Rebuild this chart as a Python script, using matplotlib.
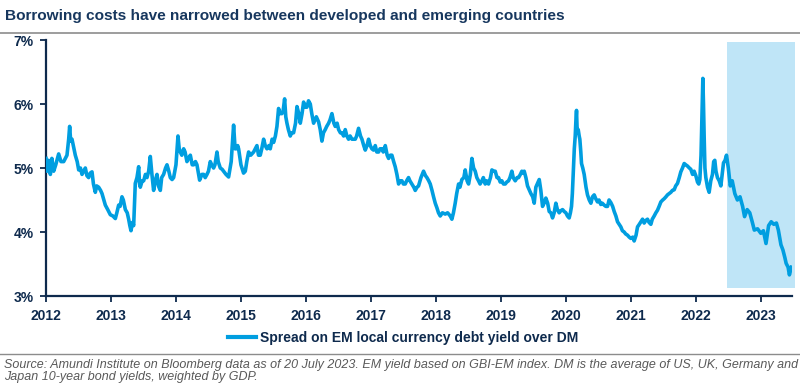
import matplotlib
matplotlib.use("Agg")
import matplotlib.pyplot as plt
from matplotlib.lines import Line2D
from matplotlib.patches import Rectangle

plt.rcParams["font.family"] = ["Liberation Sans", "DejaVu Sans"]

TITLE = "Borrowing costs have narrowed between developed and emerging countries"
SERIES_LABEL = "Spread on EM local currency debt yield over DM"
SOURCE = ("Source: Amundi Institute on Bloomberg data as of 20 July 2023. EM yield based on GBI-EM index. "
          "DM is the average of US, UK, Germany and\nJapan 10-year bond yields, weighted by GDP.")

# decimal year, spread in %
years = [
    2012.0, 2012.015, 2012.04, 2012.067, 2012.09, 2012.118, 2012.15, 2012.195, 2012.23, 2012.272,
    2012.323, 2012.349, 2012.364, 2012.38, 2012.40, 2012.43, 2012.451, 2012.48, 2012.503, 2012.53,
    2012.554, 2012.58, 2012.605, 2012.63, 2012.656, 2012.68, 2012.708, 2012.73, 2012.759, 2012.78,
    2012.81, 2012.84, 2012.862, 2012.89, 2012.913, 2012.95, 2012.99, 2013.03, 2013.067, 2013.09,
    2013.118, 2013.14, 2013.169, 2013.19, 2013.221, 2013.25, 2013.272, 2013.29, 2013.308, 2013.33,
    2013.349, 2013.374, 2013.40, 2013.426, 2013.44, 2013.451, 2013.48, 2013.503, 2013.53, 2013.554,
    2013.58, 2013.605, 2013.63, 2013.656, 2013.68, 2013.708, 2013.73, 2013.759, 2013.78, 2013.81,
    2013.84, 2013.862, 2013.89, 2013.913, 2013.94, 2013.964, 2014.0, 2014.031, 2014.05, 2014.067,
    2014.09, 2014.118, 2014.14, 2014.169, 2014.19, 2014.221, 2014.25, 2014.272, 2014.30, 2014.323,
    2014.34, 2014.364, 2014.40, 2014.426, 2014.45, 2014.477, 2014.50, 2014.528, 2014.55, 2014.579,
    2014.60, 2014.631, 2014.65, 2014.682, 2014.71, 2014.733, 2014.77, 2014.81, 2014.85, 2014.887,
    2014.91, 2014.928, 2014.95, 2014.964, 2015.0, 2015.015, 2015.04, 2015.067, 2015.09, 2015.118,
    2015.15, 2015.195, 2015.22, 2015.246, 2015.27, 2015.297, 2015.32, 2015.349, 2015.374, 2015.40,
    2015.43, 2015.451, 2015.48, 2015.503, 2015.53, 2015.554, 2015.579, 2015.60, 2015.631, 2015.65,
    2015.672, 2015.69, 2015.708, 2015.73, 2015.759, 2015.78, 2015.81, 2015.84, 2015.862, 2015.89,
    2015.913, 2015.94, 2015.964, 2015.99, 2016.015, 2016.04, 2016.067, 2016.09, 2016.118, 2016.16,
    2016.195, 2016.22, 2016.246, 2016.27, 2016.297, 2016.32, 2016.349, 2016.37, 2016.40, 2016.43,
    2016.451, 2016.48, 2016.503, 2016.53, 2016.554, 2016.58, 2016.605, 2016.63, 2016.656, 2016.68,
    2016.708, 2016.73, 2016.759, 2016.78, 2016.81, 2016.84, 2016.862, 2016.89, 2016.913, 2016.94,
    2016.964, 2016.99, 2017.015, 2017.04, 2017.067, 2017.09, 2017.118, 2017.14, 2017.169, 2017.19,
    2017.221, 2017.25, 2017.272, 2017.30, 2017.323, 2017.35, 2017.374, 2017.40, 2017.426, 2017.45,
    2017.477, 2017.50, 2017.528, 2017.55, 2017.579, 2017.60, 2017.631, 2017.66, 2017.682, 2017.71,
    2017.733, 2017.77, 2017.81, 2017.84, 2017.862, 2017.89, 2017.913, 2017.94, 2017.964, 2017.99,
    2018.015, 2018.04, 2018.067, 2018.10, 2018.144, 2018.18, 2018.221, 2018.246, 2018.27, 2018.297,
    2018.32, 2018.349, 2018.37, 2018.40, 2018.43, 2018.451, 2018.48, 2018.503, 2018.53, 2018.554,
    2018.58, 2018.605, 2018.63, 2018.656, 2018.68, 2018.708, 2018.73, 2018.759, 2018.78, 2018.81,
    2018.84, 2018.862, 2018.89, 2018.913, 2018.94, 2018.964, 2018.99, 2019.015, 2019.04, 2019.067,
    2019.09, 2019.118, 2019.14, 2019.169, 2019.19, 2019.221, 2019.25, 2019.272, 2019.30, 2019.323,
    2019.345, 2019.359, 2019.385, 2019.41, 2019.44, 2019.462, 2019.49, 2019.513, 2019.538, 2019.56,
    2019.59, 2019.615, 2019.641, 2019.665, 2019.692, 2019.72, 2019.744, 2019.77, 2019.795, 2019.82,
    2019.846, 2019.87, 2019.897, 2019.92, 2019.949, 2019.975, 2020.0, 2020.025, 2020.051, 2020.07,
    2020.087, 2020.10, 2020.118, 2020.13, 2020.144, 2020.155, 2020.164, 2020.175, 2020.19, 2020.205,
    2020.215, 2020.23, 2020.241, 2020.26, 2020.282, 2020.31, 2020.333, 2020.36, 2020.385, 2020.41,
    2020.436, 2020.46, 2020.487, 2020.51, 2020.538, 2020.56, 2020.59, 2020.615, 2020.641, 2020.665,
    2020.692, 2020.72, 2020.744, 2020.77, 2020.795, 2020.82, 2020.846, 2020.87, 2020.897, 2020.92,
    2020.949, 2020.975, 2021.0, 2021.03, 2021.051, 2021.08, 2021.103, 2021.13, 2021.154, 2021.18,
    2021.205, 2021.23, 2021.256, 2021.28, 2021.308, 2021.33, 2021.359, 2021.385, 2021.41, 2021.435,
    2021.462, 2021.49, 2021.513, 2021.54, 2021.564, 2021.59, 2021.615, 2021.64, 2021.667, 2021.69,
    2021.718, 2021.745, 2021.769, 2021.795, 2021.821, 2021.845, 2021.872, 2021.9, 2021.923, 2021.95,
    2021.974, 2022.0, 2022.026, 2022.045, 2022.062, 2022.08, 2022.087, 2022.1, 2022.108, 2022.118,
    2022.128, 2022.14, 2022.154, 2022.18, 2022.205, 2022.23, 2022.256, 2022.275, 2022.292, 2022.31,
    2022.333, 2022.36, 2022.385, 2022.405, 2022.426, 2022.45, 2022.472, 2022.5, 2022.53, 2022.56,
    2022.6, 2022.64, 2022.68, 2022.72, 2022.75, 2022.79, 2022.83, 2022.87, 2022.9, 2022.95,
    2023.0, 2023.04, 2023.08, 2023.12, 2023.16, 2023.2, 2023.24, 2023.27, 2023.31, 2023.34,
    2023.37, 2023.39, 2023.42, 2023.44, 2023.47,
]
spread = [
    5.15, 4.95, 5.12, 4.90, 5.15, 4.95, 5.05, 5.22, 5.10, 5.10,
    5.20, 5.45, 5.65, 5.42, 5.45, 5.30, 5.20, 5.10, 4.97, 5.00,
    4.90, 4.95, 5.00, 4.88, 4.85, 4.92, 4.94, 4.75, 4.62, 4.72,
    4.70, 4.65, 4.60, 4.50, 4.42, 4.35, 4.27, 4.25, 4.21, 4.30,
    4.42, 4.40, 4.55, 4.50, 4.35, 4.30, 4.20, 4.10, 4.02, 4.15,
    4.10, 4.76, 4.85, 5.02, 4.75, 4.70, 4.80, 4.80, 4.90, 4.85,
    4.95, 5.18, 4.90, 4.65, 4.80, 4.90, 4.72, 4.65, 4.85, 4.90,
    5.00, 5.05, 4.95, 4.85, 4.82, 4.85, 5.05, 5.50, 5.30, 5.25,
    5.20, 5.30, 5.25, 5.10, 5.15, 5.20, 5.05, 5.05, 5.10, 5.05,
    4.95, 4.81, 4.90, 4.90, 4.85, 4.90, 4.95, 5.10, 5.05, 5.00,
    5.05, 5.25, 5.10, 5.00, 4.98, 4.95, 4.90, 4.86, 5.10, 5.67,
    5.30, 5.30, 5.35, 5.30, 5.05, 5.00, 4.92, 4.95, 5.10, 5.25,
    5.20, 5.25, 5.30, 5.35, 5.20, 5.20, 5.30, 5.45, 5.35, 5.30,
    5.35, 5.30, 5.45, 5.40, 5.50, 5.65, 5.93, 5.85, 5.85, 5.90,
    6.08, 5.80, 5.70, 5.60, 5.50, 5.55, 5.55, 5.70, 5.96, 5.85,
    5.70, 5.85, 6.03, 5.95, 5.95, 6.05, 6.00, 5.85, 5.70, 5.80,
    5.72, 5.60, 5.42, 5.55, 5.60, 5.65, 5.70, 5.75, 5.85, 5.70,
    5.65, 5.70, 5.60, 5.55, 5.55, 5.50, 5.60, 5.50, 5.45, 5.50,
    5.45, 5.45, 5.45, 5.50, 5.62, 5.50, 5.45, 5.35, 5.28, 5.35,
    5.45, 5.35, 5.30, 5.28, 5.35, 5.25, 5.25, 5.30, 5.30, 5.25,
    5.35, 5.20, 5.15, 5.20, 5.20, 5.10, 5.02, 4.90, 4.75, 4.80,
    4.80, 4.75, 4.75, 4.80, 4.85, 4.80, 4.75, 4.70, 4.65, 4.70,
    4.72, 4.85, 4.95, 4.88, 4.85, 4.80, 4.75, 4.65, 4.55, 4.45,
    4.38, 4.30, 4.25, 4.30, 4.28, 4.30, 4.25, 4.20, 4.30, 4.45,
    4.60, 4.75, 4.70, 4.82, 4.85, 4.97, 4.80, 4.75, 4.90, 5.15,
    5.00, 4.95, 4.85, 4.80, 4.75, 4.80, 4.85, 4.75, 4.80, 4.75,
    4.85, 4.97, 4.95, 4.95, 4.85, 4.85, 4.78, 4.80, 4.75, 4.75,
    4.78, 4.80, 4.85, 4.95, 4.85, 4.80, 4.85, 4.85, 4.90, 4.95,
    4.92, 4.95, 4.85, 4.72, 4.65, 4.60, 4.55, 4.45, 4.70, 4.75,
    4.82, 4.65, 4.40, 4.45, 4.53, 4.45, 4.32, 4.30, 4.22, 4.30,
    4.45, 4.35, 4.30, 4.33, 4.35, 4.32, 4.30, 4.25, 4.22, 4.30,
    4.40, 4.60, 5.00, 5.30, 5.50, 5.75, 5.90, 5.55, 5.60, 5.50,
    5.45, 5.25, 5.07, 5.00, 4.90, 4.70, 4.58, 4.50, 4.45, 4.55,
    4.58, 4.52, 4.47, 4.50, 4.43, 4.45, 4.42, 4.40, 4.40, 4.50,
    4.46, 4.40, 4.32, 4.25, 4.16, 4.12, 4.08, 4.02, 4.00, 3.97,
    3.95, 3.92, 3.90, 3.92, 3.86, 3.95, 4.08, 4.12, 4.16, 4.20,
    4.14, 4.18, 4.20, 4.15, 4.12, 4.20, 4.25, 4.30, 4.34, 4.40,
    4.47, 4.50, 4.52, 4.55, 4.58, 4.60, 4.62, 4.65, 4.66, 4.72,
    4.76, 4.85, 4.94, 5.00, 5.07, 5.05, 5.03, 5.00, 4.98, 4.90,
    4.95, 4.88, 4.78, 4.75, 4.82, 5.20, 5.50, 6.10, 6.40, 6.00,
    5.50, 5.00, 4.85, 4.70, 4.62, 4.80, 4.90, 5.10, 5.12, 4.95,
    4.85, 4.80, 4.72, 4.90, 5.08, 5.12, 5.20, 5.00, 4.72, 4.80,
    4.60, 4.50, 4.55, 4.40, 4.24, 4.35, 4.30, 4.15, 4.03, 4.05,
    3.98, 4.02, 3.82, 4.10, 4.16, 4.12, 4.14, 4.03, 3.80, 3.72,
    3.60, 3.51, 3.45, 3.33, 3.45,
]

x_ticks = list(range(2012, 2024))
y_ticks = [3, 4, 5, 6, 7]
highlight = (2022.48, 2023.52, 3.125, 6.97)  # x0, x1, y0, y1

NAVY = "#0e2a4d"
BLUE = "#009ee0"

fig = plt.figure(figsize=(8.0, 3.89), dpi=100)
ax = fig.add_axes([46 / 800, 1 - 296 / 389, 746 / 800, 256 / 389])

x0, x1, y0, y1 = highlight
ax.add_patch(Rectangle((x0, y0), x1 - x0, y1 - y0, facecolor="#bfe5f7",
                       edgecolor="none", clip_on=False, zorder=1))
ax.plot(years, spread, color=BLUE, lw=2.6, zorder=3, solid_joinstyle="round")

ax.set_xlim(2012, 2023.48)
ax.set_ylim(3, 7)
ax.set_xticks(x_ticks)
ax.set_xticklabels([str(y) for y in x_ticks])
ax.set_yticks(y_ticks)
ax.set_yticklabels([f"{v}%" for v in y_ticks])

for side in ("top", "right"):
    ax.spines[side].set_visible(False)
for side in ("left", "bottom"):
    ax.spines[side].set_color(NAVY)
    ax.spines[side].set_linewidth(1.6)
ax.tick_params(axis="both", colors=NAVY, length=4, width=1.3, pad=5,
               labelsize=10)
for lab in ax.get_xticklabels() + ax.get_yticklabels():
    lab.set_fontweight("bold")

leg_handle = Line2D([], [], color=BLUE, lw=3)
fig.legend([leg_handle], [SERIES_LABEL], loc="center",
           bbox_to_anchor=(403 / 800, 1 - 338 / 389), frameon=False,
           handlelength=2.0, handletextpad=0.3,
           prop={"weight": "bold", "size": 10}, labelcolor=NAVY)

fig.text(5 / 800, 1 - 20 / 389, TITLE, fontsize=11.1, fontweight="bold",
         color="#17375e", va="baseline", ha="left")
fig.add_artist(Line2D([0, 1], [1 - 33 / 389] * 2, color="#8c8c8c", lw=1.2,
                      transform=fig.transFigure))
fig.add_artist(Line2D([0, 1], [1 - 354 / 389] * 2, color="#8c8c8c", lw=1.0,
                      transform=fig.transFigure))
fig.text(4 / 800, 1 - 359 / 389, SOURCE, fontsize=9.0, style="italic",
         color="#595959", va="top", ha="left", linespacing=1.05)

fig.savefig("out.png", dpi=100)
